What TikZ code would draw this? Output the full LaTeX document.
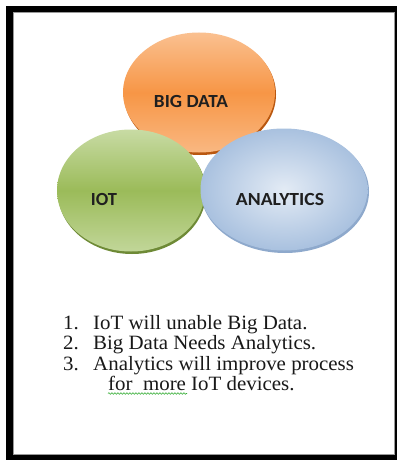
\documentclass[tikz,border=0pt]{standalone}
\usepackage{fontspec}
\setmainfont{Liberation Serif}
\newfontfamily\calib{Carlito}
\usetikzlibrary{shapes.geometric,decorations.pathmorphing}
\definecolor{orgA}{HTML}{FAC090}
\definecolor{orgB}{HTML}{F79646}
\definecolor{orgR}{HTML}{B9570F}
\definecolor{grnA}{HTML}{C8DBA4}
\definecolor{grnB}{HTML}{9BBB59}
\definecolor{grnR}{HTML}{6E8A36}
\definecolor{bluA}{HTML}{E3EBF5}
\definecolor{bluB}{HTML}{A9C1DF}
\definecolor{bluR}{HTML}{8EA9CC}
\tikzset{
  bubble/.style={ellipse, inner sep=0pt},
  rim/.style={ellipse, inner sep=0pt, draw=none},
  lbl/.style={font=\calib\bfseries\fontsize{18.5}{18.5}\selectfont, text=black!88, inner sep=0pt},
  item/.style={font=\fontsize{20.3}{20}\selectfont, anchor=base west, inner sep=0pt, text=black!90, xscale=1.03},
}
\begin{document}
\begin{tikzpicture}[x=1pt,y=-1pt]
\useasboundingbox (0,0) rectangle (397,460);
% frame
\fill[black] (6,6) rectangle (396.5,460);
\fill[white] (13,12) rectangle (395,455);
\draw[black!40, line width=0.8pt] (13.4,12.4) -- (394.6,12.4) -- (394.6,454.6) -- (13.4,454.6) -- cycle;
% big data
\node[rim, fill=orgR, minimum width=152pt, minimum height=121pt] (bdrim) at (200,94.5) {};
\node[bubble, minimum width=152pt, minimum height=120pt,
      top color=orgA, bottom color=orgA!80!orgB, middle color=orgB] (bd) at (199,92.5) {};
% iot
\node[rim, fill=grnR, minimum width=148pt, minimum height=123pt] (iotrim) at (132,192.5) {};
\node[bubble, minimum width=148pt, minimum height=122pt,
      top color=grnA, bottom color=grnA!85!grnB, middle color=grnB] (iot) at (131,190.5) {};
% analytics
\node[rim, fill=bluR, minimum width=168pt, minimum height=123pt] (anrim) at (285,191.5) {};
\node[bubble, minimum width=167pt, minimum height=122pt,
      inner color=bluA, outer color=bluB] (an) at (284,189.5) {};
% labels
\node[lbl, xscale=1.04] (tbd) at (191,101) {BIG DATA};
\node[lbl] (tiot) at (104,199) {IOT};
\node[lbl, xscale=1.06] (tan) at (280,199) {ANALYTICS};
% list
\node[item] (n1) at (63,329) {1.};
\node[item] (l1) at (93,329) {IoT will unable Big Data.};
\node[item] (n2) at (63,349.5) {2.};
\node[item] (l2) at (93,349.5) {Big Data Needs Analytics.};
\node[item] (n3) at (63,370) {3.};
\node[item] (l3) at (93,370) {Analytics will improve process};
\node[item] (l4) at (108,390) {for\ \ more IoT devices.};
\draw[green!60!black!80, line width=0.6pt, decorate,
      decoration={snake, amplitude=0.8pt, segment length=3pt}]
  (108,393.5) -- (187,393.5);
\end{tikzpicture}
\end{document}
